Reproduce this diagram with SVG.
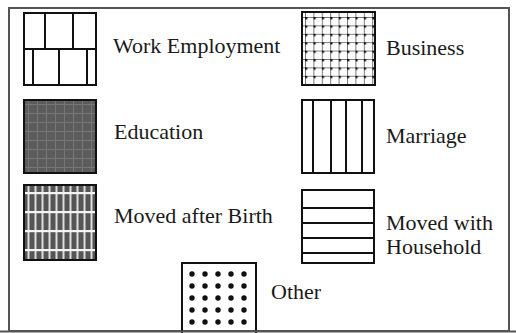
<svg xmlns="http://www.w3.org/2000/svg" width="516" height="333" viewBox="0 0 516 333">
<style>
.box{fill:none;stroke:#111;stroke-width:2}
.ln{stroke:#111;stroke-width:2}
.lbl{font-size:22px;fill:#1a1a1a}
</style>
<defs>
<pattern id="pBiz" patternUnits="userSpaceOnUse" x="305" y="17" width="8.4" height="8.4">
<rect width="8.4" height="8.4" fill="#fff"/>
<path d="M0 0.5H8.4M0.5 0V8.4" stroke="#777" stroke-width="1"/>
<rect x="-1.3" y="-1.3" width="3.6" height="3.6" fill="#111"/>
</pattern>
<pattern id="pEdu" patternUnits="userSpaceOnUse" x="24" y="100" width="9" height="9">
<rect width="9" height="9" fill="#5c5c5c"/>
<path d="M0 4.5H9M4.5 0V9" stroke="#777" stroke-width="1"/>
</pattern>
<pattern id="pBirth" patternUnits="userSpaceOnUse" x="24" y="185" width="7" height="19">
<rect width="7" height="19" fill="#555"/>
<rect x="3.5" y="0" width="2" height="19" fill="#ddd"/>
<rect x="0" y="7" width="7" height="2.2" fill="#f4f4f4"/>
</pattern>
</defs>
<rect x="9" y="8" width="500" height="323" fill="#fff" stroke="#555" stroke-width="2"/>
<g font-family="Liberation Serif, DejaVu Serif, serif">
<g id="work">
<rect class="box" x="24" y="13" width="72" height="72" fill="#fff"/>
<path class="ln" d="M24 49H96M45 13V49M73 13V49M33 49V85M59 49V85M87 49V85"/>
<text class="lbl" x="113" y="53">Work Employment</text>
</g>
<g id="business">
<rect x="302" y="12" width="73" height="73" fill="url(#pBiz)" stroke="#111" stroke-width="2"/>
<text class="lbl" x="386" y="55">Business</text>
</g>
<g id="education">
<rect x="24" y="100" width="72" height="73" fill="url(#pEdu)" stroke="#111" stroke-width="2"/>
<text class="lbl" x="114" y="139">Education</text>
</g>
<g id="marriage">
<rect class="box" x="302" y="100" width="72" height="73" fill="#fff"/>
<path class="ln" d="M313 100V173M331 100V173M346 100V173M362 100V173"/>
<text class="lbl" x="386" y="143">Marriage</text>
</g>
<g id="moved-after-birth">
<rect x="24" y="185" width="72" height="75" fill="url(#pBirth)" stroke="#111" stroke-width="2"/>
<text class="lbl" x="114" y="223">Moved after Birth</text>
</g>
<g id="moved-with-household">
<rect class="box" x="302" y="190" width="72" height="73" fill="#fff"/>
<path class="ln" d="M302 208H374M302 223H374M302 238H374M302 253H374"/>
<text class="lbl" x="386" y="230">Moved with</text>
<text class="lbl" x="386" y="254">Household</text>
</g>
<g id="other">
<rect class="box" x="182" y="263" width="74" height="80" fill="#fff"/>
<g fill="#111">
<circle cx="192" cy="274" r="2.7"/><circle cx="205" cy="274" r="2.7"/><circle cx="218" cy="274" r="2.7"/><circle cx="231" cy="274" r="2.7"/><circle cx="244" cy="274" r="2.7"/>
<circle cx="192" cy="286" r="2.7"/><circle cx="205" cy="286" r="2.7"/><circle cx="218" cy="286" r="2.7"/><circle cx="231" cy="286" r="2.7"/><circle cx="244" cy="286" r="2.7"/>
<circle cx="192" cy="298" r="2.7"/><circle cx="205" cy="298" r="2.7"/><circle cx="218" cy="298" r="2.7"/><circle cx="231" cy="298" r="2.7"/><circle cx="244" cy="298" r="2.7"/>
<circle cx="192" cy="310" r="2.7"/><circle cx="205" cy="310" r="2.7"/><circle cx="218" cy="310" r="2.7"/><circle cx="231" cy="310" r="2.7"/><circle cx="244" cy="310" r="2.7"/>
<circle cx="192" cy="322" r="2.7"/><circle cx="205" cy="322" r="2.7"/><circle cx="218" cy="322" r="2.7"/><circle cx="231" cy="322" r="2.7"/><circle cx="244" cy="322" r="2.7"/>
</g>
<text class="lbl" x="271" y="299">Other</text>
</g>
</g>
<path d="M0 331.5H516" stroke="#555" stroke-width="2"/>
</svg>
